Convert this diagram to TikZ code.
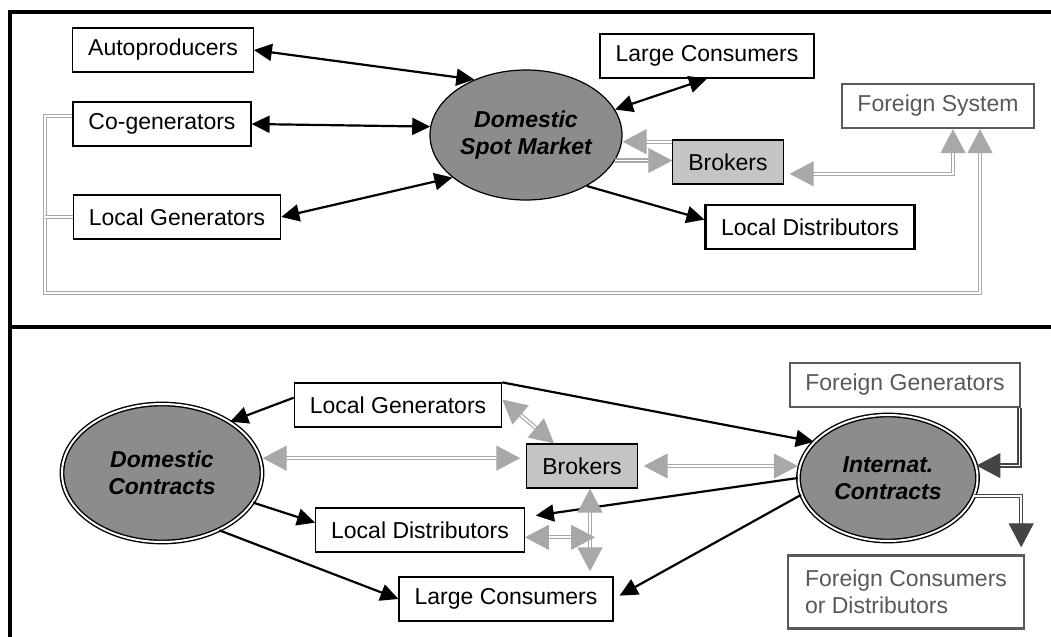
\documentclass[tikz,border=0pt]{standalone}
\usepackage{fontspec}
\setmainfont{Liberation Sans}
\usetikzlibrary{arrows.meta,shapes.geometric,calc}
\definecolor{marketgray}{HTML}{8C8C8C}
\definecolor{brokergray}{HTML}{C4C4C4}
\definecolor{linkgray}{HTML}{A8A8A8}
\definecolor{foreigngray}{HTML}{595959}
\definecolor{darklink}{HTML}{444444}

\begin{document}
\begin{tikzpicture}[x=0.5pt, y=-0.5pt,
    font=\fontsize{11.5}{13.5}\selectfont,
    box/.style={draw, line width=0.6pt, fill=white, minimum height=22pt, inner xsep=7.75pt},
    foreign/.style={box, draw=foreigngray, text=foreigngray, line width=1.2pt},
    broker/.style={box, fill=brokergray},
    market/.style={ellipse, draw, line width=0.6pt, fill=marketgray, align=center, inner sep=0pt,
        font=\fontsize{11.5}{13.5}\selectfont\bfseries\itshape},
    contract/.style={market, double, double distance=1pt, line width=0.7pt},
    flow/.style={line width=1.1pt, -{Triangle[length=9pt,width=8.5pt]}},
    both/.style={flow, {Triangle[length=9pt,width=8.5pt]}-{Triangle[length=9pt,width=8.5pt]}},
    link/.style={draw=linkgray, double, double distance=0.9pt, line width=0.6pt,
        -{Triangle[length=12pt,width=12.5pt]}},
    link2/.style={link, {Triangle[length=12pt,width=12.5pt]}-{Triangle[length=12pt,width=12.5pt]}},
    dark/.style={link, draw=darklink}]
    \useasboundingbox (0,0) rectangle (1051,637);
    % Frame
    \draw[line width=1.6pt] (1051,12) -- (10,12) -- (10,637);
    \draw[line width=1.6pt] (10,327) -- (1051,327);

    % Spot market
    \node[market, minimum width=96pt, minimum height=65pt] (Spot) at (526,135) {Domestic\\Spot Market};
    \foreach \name/\id/\x/\y in {Autoproducers/Auto/163/50, Co-generators/Cogen/162/124,
        Local Generators/Gen-1/177/217, Large Consumers/Cons-1/707/56} {
        \node[box] (\id) at (\x,\y) {\name};
    }
    \node[box, line width=1.2pt] (Dist-1) at (810,227) {Local Distributors};
    \node[broker] (Brokers-1) at (728,162) {Brokers};
    \node[foreign] (Foreign) at (938,106) {Foreign System};
    % Spot market arrows
    \foreach \from/\to in {Auto.east/Spot.133, Cogen.east/Spot.175, Gen-1.east/Spot.210, Cons-1.south/Spot.16} {
        \draw[both] (\from) -- (\to);
    }
    \draw[flow] (Spot.-40) -- (Dist-1.176);
    \draw[link] (Brokers-1.160) -- (Brokers-1.160 -| Spot.east);
    \draw[link] (Spot.-16) -- (Spot.-16 -| Brokers-1.west);
    \draw[link2, shorten <=3pt] (Brokers-1.-12) -| ($(Foreign.south)+(15,0)$);
    \coordinate (Corner) at (45,293);
    \draw[link] (Cogen.175) -| (Corner) -| ($(Foreign.south)+(42,0)$);
    \draw[link, -] (Gen-1.west) -- (Gen-1.west -| Corner);

    % Contracts
    \node[contract, minimum width=100pt, minimum height=69pt] (Domestic) at (162,473) {Domestic\\Contracts};
    \node[contract, minimum width=89.5pt, minimum height=63pt] (Internat) at (888,478) {Internat.\\Contracts};
    \foreach \name/\id/\x/\y in {Local Generators/Gen-2/398/405, Local Distributors/Dist-2/420/530,
        Large Consumers/Cons-2/506/599} {
        \node[box] (\id) at (\x,\y) {\name};
    }
    \node[broker] (Brokers-2) at (582,466) {Brokers};
    \node[foreign] (FGen) at (905,385) {Foreign Generators};
    \node[foreign, align=left, minimum width=118pt, minimum height=36.5pt] (FCons) at (906,592)
        {Foreign Consumers\\or Distributors};
    % Contract arrows
    \draw[flow] (Gen-2.176) -- (Domestic.37);
    \draw[flow] (Gen-2.north east) -- (Internat.154);
    \draw[flow] (Domestic.-18) -- (Dist-2.176);
    \draw[flow] (Domestic.-45) -- (Cons-2.west);
    \draw[flow, shorten >=5.5pt] (Internat.west) -- (Dist-2.7);
    \draw[flow, shorten >=3.5pt] (Internat.191) -- (Cons-2.east);
    % Broker links
    \coordinate (Joint) at (590,537);
    \draw[link2] (Gen-2.3) -- (Brokers-2.141);
    \draw[link2, shorten >=3pt] (Brokers-2.172 -| Domestic.east) -- (Brokers-2.172);
    \draw[link2, shorten <=3pt] (Brokers-2.east) -- (Brokers-2.east -| Internat.west);
    \draw[link2, shorten >=2.5pt] (Brokers-2.south -| Joint) -- (Joint |- Cons-2.north);
    \draw[link2] (Dist-2.-4) -- ($(Dist-2.-4 -| Joint)+(5,0)$);
    % Foreign links
    \draw[dark] ($(FGen.south east)+(-2,0)$) |- (Internat.8);
    \draw[dark, shorten >=3.5pt] (Internat.-12) -| ($(FCons.north east)+(-4,0)$);
\end{tikzpicture}
\end{document}
